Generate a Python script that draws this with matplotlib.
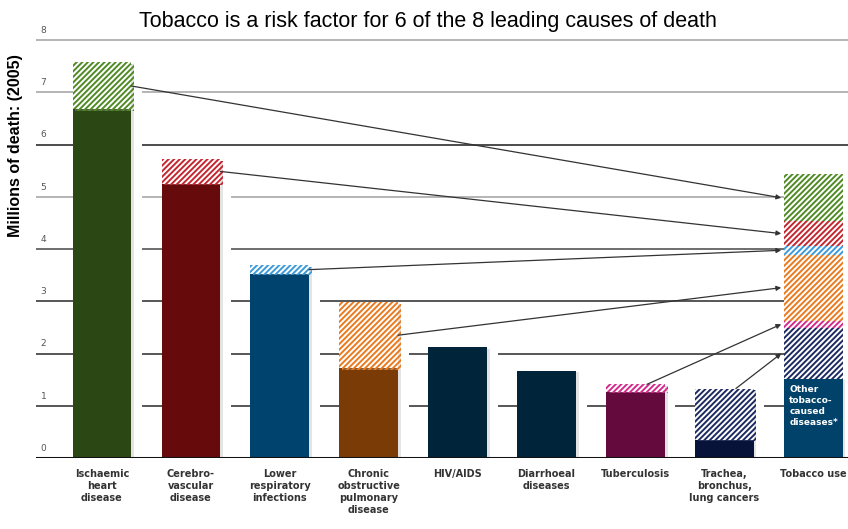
import numpy as np
from matplotlib import pyplot as plt
from matplotlib import patheffects as pe

plt.rcParams['hatch.linewidth'] = 1.4

# data (millions of deaths, 2005)
causes = ['Ischaemic\nheart\ndisease', 'Cerebro-\nvascular\ndisease', 'Lower\nrespiratory\ninfections',
          'Chronic\nobstructive\npulmonary\ndisease', 'HIV/AIDS', 'Diarrhoeal\ndiseases',
          'Tuberculosis', 'Trachea,\nbronchus,\nlung cancers', 'Tobacco use']
other_deaths = [6.67, 5.25, 3.52, 1.72, 2.12, 1.67, 1.27, 0.35, 1.51]
tobacco_deaths = [0.90, 0.47, 0.17, 1.26, 0.0, 0.0, 0.14, 0.98]
solid_colors = ['#2b4713', '#670a0c', '#00436f', '#7b3b06', '#00243a', '#00243a', '#650a3c', '#071338', '#00426a']
hatch_colors = ['#4f8a24', '#c4262f', '#3c9ad8', '#ea7a1e', None, None, '#d42a8c', '#1c2a60']
# stacking order of the tobacco segments on the last bar (bottom to top)
stack_order = [7, 6, 3, 2, 1, 0]

x = np.arange(len(causes))
w = 0.66

fig = plt.figure(figsize=(8.48, 5.29), dpi=100)
ax = fig.add_axes([36/848, 1 - 458/529, 1 - 36/848, 8.4*52.25/529])
ax.set_xlim(-0.742, 8.391)
ax.set_ylim(0, 8.4)
ax.axis('off')

# grid lines
grid_cols = {1: '#3a3a3a', 2: '#3a3a3a', 3: '#3a3a3a', 4: '#555555', 5: '#a8a8a8',
             6: '#2e2e2e', 7: '#a8a8a8', 8: '#a8a8a8'}
for v, c in grid_cols.items():
    ax.axhline(v, color=c, lw=1.2, zorder=1)
    ax.text(-0.69, v + 0.1, str(v), fontsize=6.5, color='#555555', ha='left', va='bottom')
ax.text(-0.69, 0.1, '0', fontsize=6.5, color='#555555', ha='left', va='bottom')

shadow = [pe.SimplePatchShadow(offset=(2, -1), shadow_rgbFace='0.65', alpha=0.3), pe.Normal()]

def halo(xc, h):
    ax.bar(xc + w/2 + 0.06, h, width=0.12, color='white', zorder=1.5)

# cause bars
for i in range(8):
    total = other_deaths[i] + tobacco_deaths[i]
    halo(x[i], total)
    ax.bar(x[i], other_deaths[i], width=w, color=solid_colors[i], zorder=3, path_effects=shadow)
    if tobacco_deaths[i] > 0:
        ax.bar(x[i], tobacco_deaths[i], bottom=other_deaths[i], width=w, facecolor='white',
               edgecolor=hatch_colors[i], hatch='//////', linewidth=0, zorder=3, path_effects=shadow)

# tobacco use stacked bar
bottom = other_deaths[8]
halo(x[8], bottom + sum(tobacco_deaths))
ax.bar(x[8], bottom, width=w, color=solid_colors[8], zorder=3, path_effects=shadow)
ends = {}
for i in stack_order:
    ax.bar(x[8], tobacco_deaths[i], bottom=bottom, width=w, facecolor='white',
           edgecolor=hatch_colors[i], hatch='//////', linewidth=0, zorder=3)
    ends[i] = bottom + tobacco_deaths[i] / 2
    bottom += tobacco_deaths[i]

# arrows
for i in stack_order:
    if i in (6, 7):
        start = (x[i] + 0.13, other_deaths[i] + tobacco_deaths[i])
    else:
        start = (x[i] + w/2, other_deaths[i] + tobacco_deaths[i] / 2)
    ax.annotate('', xy=(x[8] - w/2 - 0.03, ends[i]), xytext=start,
                arrowprops=dict(arrowstyle='-|>', color='#333333', lw=0.9,
                                mutation_scale=7, shrinkA=0, shrinkB=0), zorder=4)

ax.text(x[8] - w/2 + 0.06, other_deaths[8] - 0.12, 'Other\ntobacco-\ncaused\ndiseases*',
        color='white', fontsize=6.5, fontweight='bold', ha='left', va='top', linespacing=1.25,
        zorder=5)

# baseline
ax.axhline(0, color='#111111', lw=2.2, zorder=4)

# category labels
for i, lab in enumerate(causes):
    ax.text(x[i], -0.22, lab, ha='center', va='top', fontsize=7, color='#333333',
            fontweight='bold', linespacing=1.25)

fig.text(428/848, 1 - 21/529, 'Tobacco is a risk factor for 6 of the 8 leading causes of death',
         ha='center', va='center', fontsize=15.5, family='Liberation Sans')
fig.text(16/848, 1 - 146/529, 'Millions of death: (2005)', rotation=90, ha='center', va='center',
         fontsize=11.5, fontweight='bold', family='Liberation Sans')

plt.savefig('out.png', dpi=100)
